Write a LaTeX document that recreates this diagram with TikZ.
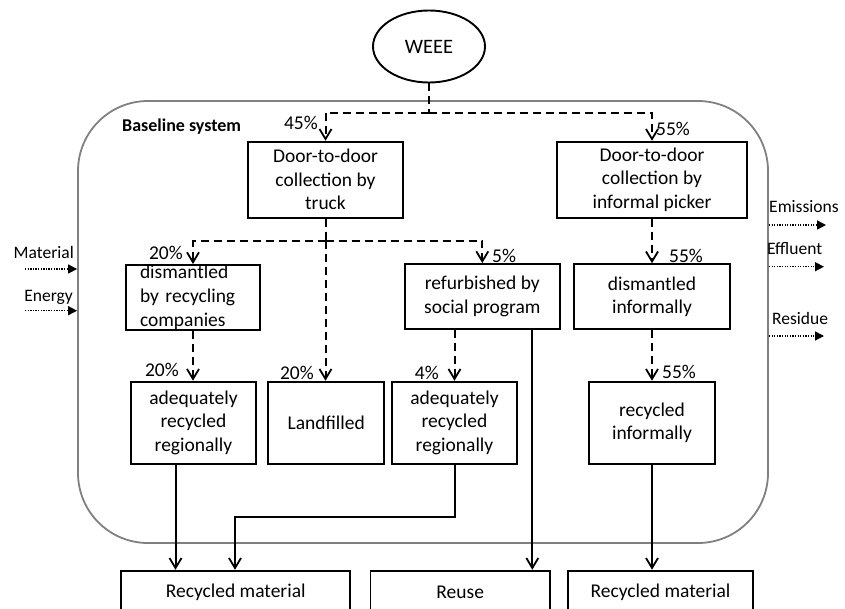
\documentclass[tikz,border=0pt]{standalone}
\usepackage{fontspec}
\setmainfont{Carlito}
\usetikzlibrary{arrows.meta,shapes.geometric}
\tikzset{
  bx/.style={draw, line width=1.9pt, inner sep=0pt, align=center, font=\fontsize{19.5}{23.5}\selectfont},
  dsh/.style={line width=2pt, dash pattern=on 8pt off 5pt},
  dsharr/.style={dsh, -{Straight Barb[length=10pt,width=12pt,line width=1.8pt]}},
  sol/.style={line width=2pt},
  solarr/.style={sol, -{Straight Barb[length=10pt,width=12pt,line width=1.8pt]}},
  side/.style={line width=1.4pt, dash pattern=on 1.3pt off 1.3pt, -{Triangle[length=9pt,width=9pt]}},
  pct/.style={inner sep=0pt, font=\fontsize{19.5}{23.5}\selectfont},
  sidelbl/.style={inner sep=0pt, font=\fontsize{17.5}{20}\selectfont},
}
\begin{document}
\begin{tikzpicture}[x=1pt,y=-1pt]
\useasboundingbox (0,0) rectangle (845,608);
\clip (0,0) rectangle (845,608);

% system boundary
\node[draw=black!50, line width=1.8pt, rounded corners=70pt, minimum width=690pt, minimum height=442pt, inner sep=0pt] (sys) at (423,322) {};
\node[inner sep=0pt, anchor=west, font=\fontsize{18}{21}\selectfont\bfseries] (base) at (122,127) {Baseline system};

% WEEE
\node[draw, ellipse, line width=1.9pt, minimum width=112pt, minimum height=72pt, inner sep=0pt, font=\fontsize{20.5}{24}\selectfont] (weee) at (429,46.5) {WEEE};

% level 1
\node[bx, minimum width=155.6pt, minimum height=76pt] (truck) at (325.5,179.7) {Door-to-door\\collection by\\truck};
\node[bx, minimum width=190pt, minimum height=76pt] (pick) at (652,179.7) {Door-to-door\\collection by\\informal picker};

% level 2
\node[bx, minimum width=134pt, minimum height=65pt, text width=106pt, inner xsep=14pt, align=left, font=\fontsize{19.5}{24}\selectfont] (dism) at (193,297.5) {dismantled\\by recycling\\companies};
\node[bx, minimum width=155.3pt, minimum height=65pt] (refurb) at (482.3,296.5) {refurbished by\\social program};
\node[bx, minimum width=156pt, minimum height=65pt] (dinf) at (652,296.7) {dismantled\\informally};

% level 3
\node[bx, minimum width=125pt, minimum height=82.3pt] (adeq1) at (193.5,422.8) {adequately\\recycled\\regionally};
\node[bx, minimum width=115.7pt, minimum height=82.3pt] (land) at (326.2,422.8) {Landfilled};
\node[bx, minimum width=125.6pt, minimum height=82.3pt] (adeq2) at (454.5,422.8) {adequately\\recycled\\regionally};
\node[bx, minimum width=126pt, minimum height=82.3pt] (rinf) at (652,422.8) {recycled\\informally};

% outputs
\node[bx, minimum width=228.6pt, minimum height=44pt] (rm1) at (235.7,592.7) {Recycled material};
\node[bx, minimum width=179.5pt, minimum height=44pt] (reuse) at (460.2,592.7) {Reuse};
\node[bx, minimum width=185pt, minimum height=44pt] (rm2) at (660.5,592.7) {Recycled material};

% dashed flows
\coordinate (s1) at (429,112.5);
\draw[dsh] (weee.south) -- (s1);
\draw[dsharr] (s1) -| (truck.north);
\draw[dsharr] (s1) -| (pick.north);
\coordinate (s2) at (325.5,241);
\draw[dsh] (truck.south) -- (s2);
\draw[dsharr] (s2) -| (dism.north);
\draw[dsharr] (s2) -| (refurb.north);
\draw[dsharr] (s2) -- (s2 |- land.north);
\draw[dsharr] (pick.south) -- (dinf.north);
\draw[dsharr] (dism.south) -- (dism.south |- adeq1.north);
\draw[dsharr] (refurb.south -| adeq2.north) -- (adeq2.north);
\draw[dsharr] (dinf.south) -- (rinf.north);

% solid flows
\draw[solarr] ([xshift=-18pt]adeq1.south) -- ([xshift=-18pt]adeq1.south |- rm1.north);
\coordinate (j1) at (235,517);
\draw[solarr] (adeq2.south) |- (j1) -- (j1 |- rm1.north);
\draw[solarr] ([xshift=50pt]refurb.south) -- ([xshift=50pt]refurb.south |- reuse.north);
\draw[solarr] (rinf.south) -- (rinf.south |- rm2.north);

% percentages
\node[pct, anchor=east] (p45) at (318,123) {45\%};
\node[pct, anchor=west] (p55a) at (656,129) {55\%};
\node[pct, anchor=east] (p20a) at (183,253) {20\%};
\node[pct, anchor=west] (p5) at (492,256) {5\%};
\node[pct, anchor=west] (p55b) at (669,256) {55\%};
\node[pct, anchor=east] (p20b) at (179,370) {20\%};
\node[pct, anchor=east] (p20c) at (314,373) {20\%};
\node[pct, anchor=east] (p4) at (439,373) {4\%};
\node[pct, anchor=west] (p55c) at (662,372) {55\%};

% side inputs and outputs
\node[sidelbl, anchor=east] (lmat) at (74,252) {Material};
\node[sidelbl, anchor=east] (lene) at (73,297) {Energy};
\node[sidelbl, anchor=west] (lemi) at (769,207) {Emissions};
\node[sidelbl, anchor=west] (leff) at (767,249) {Effluent};
\node[sidelbl, anchor=west] (lres) at (772,318) {Residue};
\coordinate (mat) at (25,269);
\coordinate (ene) at (25,310.7);
\coordinate (emi) at (826,225);
\coordinate (eff) at (824,266.7);
\coordinate (res) at (824,336);
\draw[side] (mat) -- (mat -| sys.west);
\draw[side] (ene) -- (ene -| sys.west);
\draw[side] (emi -| sys.east) -- (emi);
\draw[side] (eff -| sys.east) -- (eff);
\draw[side] (res -| sys.east) -- (res);
\end{tikzpicture}
\end{document}
